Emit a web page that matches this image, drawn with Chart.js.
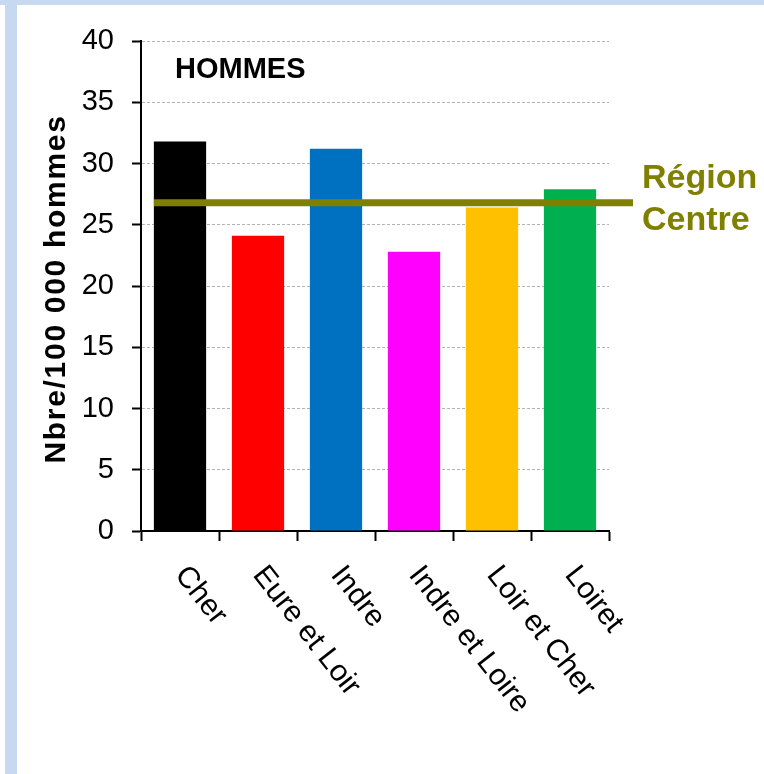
<!DOCTYPE html>
<html>
<head>
<meta charset="utf-8">
<title>HOMMES – Nbre/100 000 hommes</title>
<script src="https://cdn.jsdelivr.net/npm/chart.js@4"></script>
<style>
  html, body { margin: 0; padding: 0; background: #ffffff; }
  #wrap { position: relative; width: 764px; height: 774px; overflow: hidden; background: #ffffff; }
  #wrap canvas { position: absolute; left: 0; top: 0; }
  .band { position: absolute; background: #c6d9f0; }
  #bandTop { left: 0; top: 0; width: 764px; height: 5px; }
  #bandLeft { left: 5px; top: 0; width: 12px; height: 774px; }
</style>
</head>
<body>
<div id="wrap">
  <canvas id="chart" width="764" height="774"></canvas>
  <div class="band" id="bandTop"></div>
  <div class="band" id="bandLeft"></div>
</div>
<script>
// Departements of the Centre region and their rate per 100 000 men
const departements = ['Cher', 'Eure et Loir', 'Indre', 'Indre et Loire', 'Loir et Cher', 'Loiret'];
const tauxHommes = [31.8, 24.1, 31.2, 22.8, 26.4, 27.9];
const couleursBarres = ['#000000', '#ff0000', '#0070c0', '#ff00ff', '#ffc000', '#00b050'];

// Regional reference rate, drawn as a horizontal bar across the plot
const tauxRegion = [26.8];
const libelleRegion = ['Région', 'Centre'];

// Value axis
const axeMin = 0;
const axeMax = 40;
const axePas = 5;

const titreGraphique = 'HOMMES';
const titreAxeY = 'Nbre/100 000 hommes';

const FONT = '"Liberation Sans", Arial, Helvetica, sans-serif';
const OLIVE = '#808000';

const decor = {
  id: 'decor',
  afterDatasetsDraw(chart) {
    const { ctx, chartArea, scales } = chart;

    // Regional reference line, from the left edge of the first bar to past the plot
    const yRegion = scales.y.getPixelForValue(tauxRegion[0]);
    const premiere = chart.getDatasetMeta(0).data[0];
    const xDebut = premiere.x - premiere.width / 2;
    const xFin = chartArea.right + 24;
    ctx.save();
    ctx.strokeStyle = OLIVE;
    ctx.lineWidth = 7;
    ctx.lineCap = 'butt';
    ctx.beginPath();
    ctx.moveTo(xDebut, yRegion);
    ctx.lineTo(xFin, yRegion);
    ctx.stroke();

    ctx.fillStyle = OLIVE;
    ctx.font = 'bold 34px ' + FONT;
    ctx.textAlign = 'left';
    ctx.textBaseline = 'alphabetic';
    ctx.fillText(libelleRegion[0], chartArea.right + 33, yRegion - 15);
    ctx.fillText(libelleRegion[1], chartArea.right + 33, yRegion + 27);
    ctx.restore();
  },
  afterDraw(chart) {
    const { ctx, chartArea, scales } = chart;
    ctx.save();

    // Chart title inside the plot, top left
    ctx.fillStyle = '#000000';
    ctx.font = 'bold 29px ' + FONT;
    ctx.textAlign = 'left';
    ctx.textBaseline = 'alphabetic';
    ctx.fillText(titreGraphique, chartArea.left + 34, chartArea.top + 37);

    // Slanted category labels under the axis
    ctx.font = '30px ' + FONT;
    const angle = 52 * Math.PI / 180;
    departements.forEach((nom, i) => {
      const x = scales.x.getPixelForValue(i);
      ctx.save();
      ctx.translate(x - 6, chartArea.bottom + 44);
      ctx.rotate(angle);
      ctx.fillText(nom, 0, 0);
      ctx.restore();
    });

    // Vertical axis title
    ctx.font = 'bold 30px ' + FONT;
    if ('letterSpacing' in ctx) ctx.letterSpacing = '1.7px';
    ctx.textAlign = 'center';
    ctx.translate(65, (chartArea.top + chartArea.bottom) / 2 + 3);
    ctx.rotate(-Math.PI / 2);
    ctx.fillText(titreAxeY, 0, 0);
    ctx.restore();
  }
};

new Chart(document.getElementById('chart'), {
  type: 'bar',
  data: {
    labels: departements,
    datasets: [{
      data: tauxHommes,
      backgroundColor: couleursBarres,
      borderWidth: 0,
      barPercentage: 0.67,
      categoryPercentage: 1.0
    }]
  },
  options: {
    responsive: false,
    animation: false,
    devicePixelRatio: 1,
    layout: { padding: { top: 41, right: 155, bottom: 0, left: 0 } },
    plugins: {
      legend: { display: false },
      title: { display: false },
      tooltip: { enabled: false }
    },
    scales: {
      x: {
        type: 'category',
        offset: true,
        grid: {
          display: true,
          offset: true,
          drawOnChartArea: false,
          drawTicks: true,
          tickLength: 10,
          tickColor: '#000000',
          tickWidth: 2
        },
        border: { display: true, color: '#000000', width: 2 },
        ticks: { display: false },
        afterFit(scale) { scale.height = 243; }
      },
      y: {
        min: axeMin,
        max: axeMax,
        ticks: {
          stepSize: axePas,
          color: '#000000',
          padding: 18,
          font: { family: FONT, size: 29 }
        },
        grid: {
          color: '#b3b3b3',
          lineWidth: 1,
          drawTicks: true,
          tickLength: 9,
          tickColor: '#000000',
          tickWidth: 2
        },
        border: { display: true, color: '#000000', width: 2, dash: [3, 2] },
        afterFit(scale) { scale.width = 141; }
      }
    }
  },
  plugins: [decor]
});
</script>
</body>
</html>
